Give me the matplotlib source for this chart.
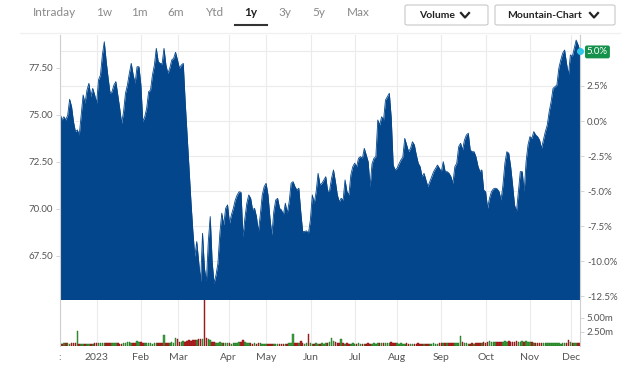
import numpy as np
import matplotlib
matplotlib.use('Agg')
import matplotlib.pyplot as plt
from matplotlib.patches import FancyBboxPatch
from matplotlib.lines import Line2D

plt.rcParams['font.family'] = ['Lato', 'DejaVu Sans']

# daily closes (trading days, Dec 2022 -> Dec 2023)
prices = [
    75.07, 74.72, 74.89, 74.72, 74.98, 75.82, 75.43, 74.63, 74.10, 74.19,
    73.92, 74.98, 76.05, 75.61, 76.31, 76.67, 75.96, 76.40, 76.05, 75.61,
    76.85, 77.11, 78.18, 78.88, 77.82, 76.94, 76.14, 76.22, 76.58, 76.76,
    76.05, 75.34, 74.54, 75.16, 76.14, 76.58, 77.20, 77.73, 77.11, 76.67,
    77.55, 77.55, 76.58, 74.63, 74.89, 75.34, 76.22, 76.31, 77.11, 77.64,
    78.53, 77.82, 77.73, 77.70, 78.53, 77.64, 77.20, 77.47, 77.91, 78.00,
    78.32, 77.91, 77.47, 77.64, 77.73, 75.69, 73.92, 72.15, 70.37, 68.78,
    67.45, 68.25, 67.18, 66.12, 68.69, 66.83, 66.12, 68.25, 69.58, 67.18,
    66.03, 66.47, 67.10, 68.69, 69.76, 69.13, 70.02, 70.20, 69.22, 69.67,
    70.02, 70.46, 70.73, 70.90, 70.87, 68.51, 69.49, 70.29, 70.73, 70.55,
    69.93, 70.02, 69.58, 68.78, 69.67, 70.73, 71.17, 71.35, 70.73, 69.51,
    68.60, 69.84, 70.46, 70.55, 70.02, 69.93, 69.67, 70.29, 69.76, 70.37,
    71.35, 71.44, 71.17, 70.99, 71.09, 69.84, 68.78, 68.78, 68.82, 68.69,
    69.40, 70.73, 70.29, 70.90, 71.88, 71.26, 71.35, 71.53, 71.70, 70.90,
    70.99, 71.62, 72.06, 71.44, 70.73, 70.37, 70.55, 70.46, 71.53, 70.90,
    70.73, 71.79, 72.23, 72.42, 72.23, 72.68, 72.77, 72.68, 73.21, 72.86,
    72.50, 71.15, 72.38, 72.68, 72.77, 74.72, 74.45, 74.89, 74.72, 75.78,
    75.96, 76.14, 74.81, 72.32, 72.06, 72.15, 72.38, 72.59, 72.75, 73.74,
    73.39, 73.03, 73.21, 73.56, 73.39, 72.86, 72.42, 72.23, 71.70, 71.88,
    71.53, 71.17, 71.44, 71.70, 71.97, 72.15, 72.32, 72.15, 71.97, 72.50,
    71.97, 71.97, 71.88, 71.70, 71.35, 72.23, 72.42, 73.30, 73.48, 73.12,
    73.65, 73.92, 74.01, 73.12, 73.03, 73.03, 72.75, 72.27, 71.97, 72.06,
    70.99, 70.90, 70.02, 70.55, 70.90, 71.05, 71.09, 71.05, 70.90, 70.46,
    71.26, 72.42, 73.03, 72.95, 72.23, 71.26, 70.20, 69.84, 70.90, 71.97,
    71.97, 70.90, 72.50, 73.39, 73.83, 73.74, 74.10, 73.92, 73.83, 73.65,
    73.21, 73.65, 74.10, 74.45, 75.16, 75.69, 76.40, 76.49, 76.58, 77.47,
    77.91, 78.27, 78.44, 77.73, 77.11, 78.18, 78.09, 78.53, 78.97, 78.71,
    78.39,
]

# volume in millions
volumes = [
    0.5, 0.4, 0.6, 0.5, 0.6, 0.4, 0.5, 0.6, 0.5, 2.7,
    0.4, 0.3, 0.3, 0.3, 0.3, 0.4, 0.3, 0.4, 0.5, 0.5,
    0.6, 0.6, 0.6, 0.6, 0.5, 0.6, 0.5, 0.5, 0.6, 0.5,
    0.6, 0.4, 0.4, 0.5, 0.6, 0.7, 0.7, 0.6, 0.5, 0.5,
    0.9, 0.8, 0.7, 0.6, 0.5, 0.5, 0.6, 0.5, 0.4, 0.5,
    0.6, 0.5, 0.5, 0.6, 1.9, 0.6, 0.5, 0.5, 0.7, 0.6,
    1.4, 1.2, 0.8, 0.7, 0.9, 0.8, 0.9, 1.0, 0.9, 1.0,
    1.1, 1.0, 1.2, 1.2, 1.3, 8.5, 1.5, 1.2, 1.0, 0.8,
    0.7, 0.6, 0.6, 0.7, 0.6, 0.5, 0.6, 0.5, 0.5, 0.4,
    0.5, 0.5, 0.6, 0.7, 0.8, 1.0, 0.8, 0.6, 0.5, 0.5,
    0.4, 0.5, 0.4, 0.5, 0.5, 0.4, 0.4, 0.3, 0.4, 0.4,
    0.4, 0.3, 0.4, 0.4, 0.3, 0.3, 0.4, 0.3, 0.4, 0.5,
    0.6, 2.1, 0.6, 0.5, 0.6, 0.9, 0.5, 0.4, 0.5, 2.1,
    0.5, 0.4, 0.4, 0.5, 0.4, 0.4, 0.5, 0.4, 0.5, 0.6,
    0.7, 1.5, 0.9, 0.7, 0.5, 0.6, 1.3, 0.5, 0.4, 0.5,
    0.4, 0.4, 0.5, 0.4, 0.4, 0.5, 0.4, 0.4, 0.3, 0.4,
    0.5, 0.4, 0.4, 0.5, 0.4, 0.5, 0.5, 0.6, 0.5, 0.5,
    0.6, 0.6, 0.8, 0.6, 0.5, 0.5, 0.4, 0.5, 0.4, 0.4,
    0.5, 0.4, 0.4, 0.4, 0.3, 0.4, 0.5, 0.4, 0.4, 0.4,
    0.4, 0.3, 0.4, 0.4, 0.5, 0.4, 0.4, 0.5, 0.5, 0.5,
    0.6, 0.5, 0.6, 0.6, 0.5, 0.5, 0.6, 0.6, 1.7, 0.7,
    0.5, 0.5, 0.4, 0.4, 0.5, 0.4, 0.5, 0.5, 0.6, 0.6,
    0.7, 0.6, 0.7, 0.9, 0.8, 0.7, 0.8, 0.8, 0.7, 0.8,
    0.8, 0.9, 0.8, 0.9, 0.8, 0.7, 0.8, 0.9, 0.8, 0.7,
    0.9, 0.8, 0.9, 0.8, 0.7, 0.7, 0.6, 0.6, 0.5, 0.5,
    0.6, 0.5, 0.5, 0.5, 0.6, 0.6, 0.6, 0.5, 0.6, 0.5,
    0.4, 0.5, 0.6, 0.5, 1.1, 0.8, 0.6, 0.6, 0.5, 0.6,
    0.6,
]

month_pos = [0, 19, 42, 61.5, 87.5, 107, 130.3, 153.3, 175, 198, 221, 244, 265.5]
month_labels = [':', '2023', 'Feb', 'Mar', 'Apr', 'May', 'Jun', 'Jul', 'Aug',
                'Sep', 'Oct', 'Nov', 'Dec']
price_ticks = [67.5, 70.0, 72.5, 75.0, 77.5]
pct_ticks = [-12.5, -10.0, -7.5, -5.0, -2.5, 0.0, 2.5, 5.0]
vol_ticks = [2.5, 5.0]
base_price = 74.66

tabs = ['Intraday', '1w', '1m', '6m', 'Ytd', '1y', '3y', '5y', 'Max']
tab_x = [54, 104, 139, 176, 215, 251, 285, 319, 358]

W, H = 640, 365
def fx(x): return x / W
def fy(y): return 1 - y / H

navy = '#04468c'
grid_c = '#ebebeb'
spine_c = '#cfcfcf'
txt_c = '#555555'

fig = plt.figure(figsize=(6.4, 3.65), dpi=100)
fig.patch.set_facecolor('white')

x = np.arange(len(prices))
ax = fig.add_axes([fx(60), fy(300), fx(520), 265 / H])
ax.fill_between(x, prices, 60, color=navy, lw=0, zorder=2)
ax.plot(x, prices, color=navy, lw=0.6, zorder=2)
ax.set_xlim(0, len(prices) - 1)
ax.set_ylim(65.14, 79.24)
ax.set_axisbelow(True)
ax.set_xticks(month_pos)
ax.tick_params(axis='x', length=0, labelbottom=False)
ax.grid(axis='x', color=grid_c, lw=0.8)
ax.set_yticks(price_ticks, labels=['%.2f' % v for v in price_ticks])
ax.tick_params(axis='y', length=3, width=0.6, color=spine_c, labelsize=7,
               labelcolor=txt_c, pad=2)
ax.set_yticks([base_price * (1 + p / 100) for p in pct_ticks], minor=True)
ax.tick_params(axis='y', which='minor', length=0)
ax.grid(axis='y', which='minor', color=grid_c, lw=0.8)
for s in ['top', 'bottom']:
    ax.spines[s].set_visible(False)
for s in ['left', 'right']:
    ax.spines[s].set_color(spine_c)
    ax.spines[s].set_linewidth(0.8)

sec = ax.secondary_yaxis('right', functions=(lambda p: (p / base_price - 1) * 100,
                                             lambda q: base_price * (1 + q / 100)))
sec.set_yticks(pct_ticks, labels=['%.1f%%' % v for v in pct_ticks])
sec.tick_params(length=3, width=0.6, color=spine_c, labelsize=7, labelcolor=txt_c, pad=2)
sec.spines['right'].set_color(spine_c)
last = sec.get_yticklabels()[-1]
last.set_color('white')
last.set_bbox(dict(boxstyle='round,pad=0.2', fc='#14914a', ec='none'))

ax.plot(x[-1], prices[-1], 'o', ms=4, color='#2fc6e8', clip_on=False, zorder=5)

# volume panel
vax = fig.add_axes([fx(60), fy(346), fx(520), 46 / H])
chg = np.diff(prices, prepend=prices[0])
up = chg >= 0
vols = np.array(volumes)
vax.bar(x[up], vols[up], width=0.8, color='#3da23d', edgecolor='#1d6b1d', lw=0.3)
vax.bar(x[~up], vols[~up], width=0.8, color='#b82222', edgecolor='#7a1010', lw=0.3)
vax.set_xlim(ax.get_xlim())
vax.set_ylim(0, 8.2)
vax.set_axisbelow(True)
vax.set_xticks(month_pos, labels=month_labels)
vax.tick_params(axis='x', length=0, labelsize=7.5, labelcolor=txt_c, pad=5)
vax.grid(axis='x', color=grid_c, lw=0.8)
vax.yaxis.tick_right()
vax.set_yticks(vol_ticks, labels=['%.2fm' % v for v in vol_ticks])
vax.tick_params(axis='y', length=3, width=0.6, color=spine_c, labelsize=7,
                labelcolor=txt_c, pad=2)
for s in ['top', 'bottom']:
    vax.spines[s].set_visible(False)
for s in ['left', 'right']:
    vax.spines[s].set_color(spine_c)
    vax.spines[s].set_linewidth(0.8)

# header
fig.add_artist(Line2D([fx(20), fx(620)], [fy(33), fy(33)], color='#f0f0f0', lw=1))
for t, tx in zip(tabs, tab_x):
    sel = t == '1y'
    fig.text(fx(tx), fy(13), t, ha='center', va='center', fontsize=8.5,
             color='#222222' if sel else '#8a8a8a', fontweight='bold' if sel else 'normal')
fig.add_artist(Line2D([fx(235), fx(267)], [fy(25), fy(25)], color='#333333', lw=1.5))

def button(x0, x1, label, lx, cx):
    fig.add_artist(FancyBboxPatch((fx(x0), fy(25)), fx(x1 - x0), 20 / H,
                                  boxstyle='round,pad=0,rounding_size=0.004',
                                  fc='white', ec='#c8c8c8', lw=0.8))
    fig.text(fx(lx), fy(15), label, ha='center', va='center', fontsize=7.5,
             color='#222222', fontweight='bold')
    fig.add_artist(Line2D([fx(cx - 4), fx(cx), fx(cx + 4)], [fy(13), fy(17.5), fy(13)],
                          color='#222222', lw=1.6))

button(405, 488, 'Volume', 437, 465)
button(495, 615, 'Mountain-Chart', 545, 594)

fig.savefig('out.png', dpi=100)
